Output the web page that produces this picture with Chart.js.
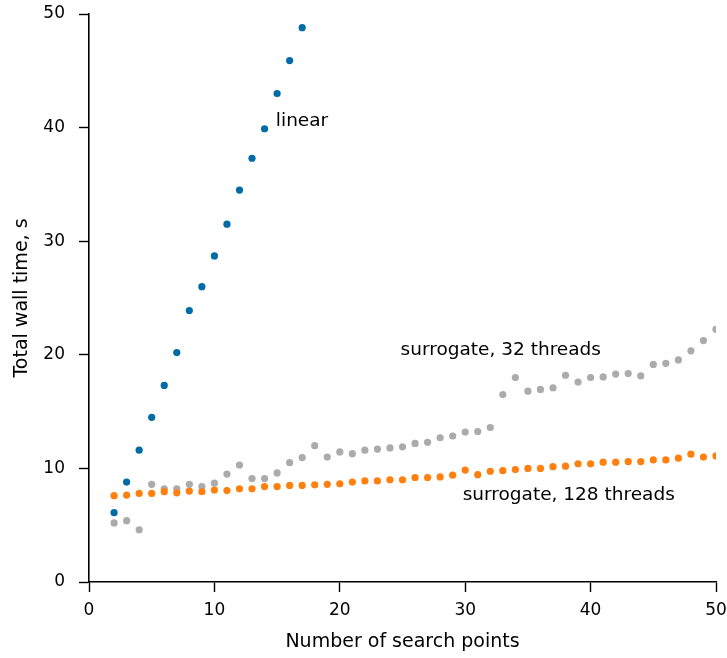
<!DOCTYPE html>
<html>
<head>
<meta charset="utf-8">
<title>Total wall time</title>
<script src="https://cdn.jsdelivr.net/npm/chart.js@4"></script>
<style>
  html, body { margin: 0; padding: 0; background: #fff; }
  #wrap { width: 727px; height: 658px; }
</style>
</head>
<body>
<div id="wrap"><canvas id="chart" width="727" height="658"></canvas></div>
<script>
// search points for each run
const linearPoints = [2, 3, 4, 5, 6, 7, 8, 9, 10, 11, 12, 13, 14, 15, 16, 17];
const linearTime = [6.1, 8.8, 11.6, 14.5, 17.3, 20.2, 23.9, 26.0, 28.7, 31.5, 34.5, 37.3, 39.9, 43.0, 45.9, 48.8];

const surrogatePoints = [];
for (let n = 2; n <= 50; n++) surrogatePoints.push(n);

const surrogate32Time = [
  5.2, 5.4, 4.6, 8.6, 8.2, 8.2, 8.6, 8.4, 8.7, 9.5,
  10.3, 9.1, 9.1, 9.6, 10.5, 10.95, 12.0, 11.0, 11.45, 11.3,
  11.6, 11.7, 11.8, 11.9, 12.2, 12.3, 12.7, 12.85, 13.2, 13.25,
  13.6, 16.5, 18.0, 16.8, 16.95, 17.1, 18.2, 17.6, 18.0, 18.05,
  18.3, 18.35, 18.15, 19.15, 19.25, 19.55, 20.35, 21.25, 22.25
];

const surrogate128Time = [
  7.6, 7.65, 7.8, 7.8, 7.95, 7.85, 8.0, 7.95, 8.1, 8.05,
  8.2, 8.2, 8.4, 8.4, 8.5, 8.5, 8.55, 8.6, 8.65, 8.8,
  8.9, 8.9, 9.0, 9.0, 9.2, 9.2, 9.25, 9.4, 9.85, 9.45,
  9.75, 9.8, 9.9, 10.0, 10.0, 10.15, 10.2, 10.4, 10.4, 10.55,
  10.55, 10.6, 10.6, 10.75, 10.75, 10.9, 11.25, 11.0, 11.1
];

const xTicks = [0, 10, 20, 30, 40, 50];
const yTicks = [0, 10, 20, 30, 40, 50];

// text labels next to each series: [text, x, y]
const seriesLabels = [
  ["linear", 14.9, 40.6],
  ["surrogate, 32 threads", 24.85, 20.4],
  ["surrogate, 128 threads", 29.8, 7.6]
];

const FONT = "'DejaVu Sans', sans-serif";

function toXY(xs, ys) {
  return xs.map((x, i) => ({ x: x, y: ys[i] }));
}

const labelPlugin = {
  id: "seriesLabels",
  afterDatasetsDraw(chart) {
    const { ctx, scales } = chart;
    ctx.save();
    ctx.font = "18.5px " + FONT;
    ctx.fillStyle = "#000";
    ctx.textAlign = "left";
    ctx.textBaseline = "middle";
    seriesLabels.forEach(l => {
      ctx.fillText(l[0], scales.x.getPixelForValue(l[1]), scales.y.getPixelForValue(l[2]));
    });
    ctx.restore();
  }
};

const axisStyle = {
  border: { display: true, color: "#000", width: 1.6 },
  grid: { display: true, drawOnChartArea: false, drawTicks: true, tickLength: 10, color: "#000", tickWidth: 1.4 }
};

// fixed axis sizes, no extra room taken for edge tick labels
function fixX(s) {
  s.height = 76;
  s.paddingLeft = 0;
  s.paddingRight = 0;
}
function fixY(s) {
  s.width = 89;
  s.paddingTop = 0;
  s.paddingBottom = 0;
}

new Chart(document.getElementById("chart").getContext("2d"), {
  type: "scatter",
  data: {
    datasets: [
      {
        label: "linear",
        data: toXY(linearPoints, linearTime),
        backgroundColor: "#006BA4",
        order: 3
      },
      {
        label: "surrogate, 32 threads",
        data: toXY(surrogatePoints, surrogate32Time),
        backgroundColor: "#ABABAB",
        order: 2
      },
      {
        label: "surrogate, 128 threads",
        data: toXY(surrogatePoints, surrogate128Time),
        backgroundColor: "#FF800E",
        order: 1
      }
    ]
  },
  options: {
    responsive: false,
    animation: false,
    devicePixelRatio: 1,
    layout: { padding: { left: 0, right: 11, top: 14, bottom: 0 } },
    elements: { point: { radius: 3.6, borderWidth: 0, hoverRadius: 3.6 } },
    plugins: {
      legend: { display: false },
      tooltip: { enabled: false }
    },
    scales: {
      x: {
        type: "linear",
        min: 0,
        max: 50,
        afterBuildTicks: s => { s.ticks = xTicks.map(v => ({ value: v })); },
        afterFit: fixX,
        ticks: { color: "#000", font: { family: FONT, size: 17 }, padding: 8, maxRotation: 0 },
        title: {
          display: true,
          text: "Number of search points",
          color: "#000",
          font: { family: FONT, size: 19 },
          padding: { top: 0, bottom: 5 }
        },
        ...axisStyle
      },
      y: {
        type: "linear",
        min: 0,
        max: 50,
        afterBuildTicks: s => { s.ticks = yTicks.map(v => ({ value: v })); },
        afterFit: fixY,
        ticks: { color: "#000", font: { family: FONT, size: 17 }, padding: 14 },
        title: {
          display: true,
          text: "Total wall time, s",
          color: "#000",
          font: { family: FONT, size: 19 },
          padding: { top: 11, bottom: 0 }
        },
        ...axisStyle
      }
    }
  },
  plugins: [labelPlugin]
});
</script>
</body>
</html>
